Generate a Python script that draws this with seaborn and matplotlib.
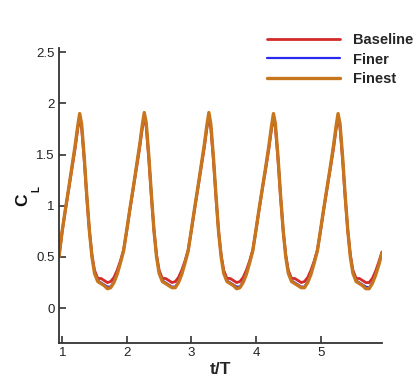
import matplotlib
matplotlib.use("Agg")
import matplotlib.pyplot as plt
import seaborn as sns
import pandas as pd

# Time axis in flapping periods (t/T)
t = [0.95,
     1.00, 1.05, 1.10, 1.15, 1.20, 1.24, 1.27, 1.30, 1.34, 1.38, 1.42, 1.46, 1.50, 1.55, 1.60, 1.65, 1.70, 1.75, 1.80, 1.85, 1.90, 1.95,
     2.00, 2.05, 2.10, 2.15, 2.20, 2.24, 2.27, 2.30, 2.34, 2.38, 2.42, 2.46, 2.50, 2.55, 2.60, 2.65, 2.70, 2.75, 2.80, 2.85, 2.90, 2.95,
     3.00, 3.05, 3.10, 3.15, 3.20, 3.24, 3.27, 3.30, 3.34, 3.38, 3.42, 3.46, 3.50, 3.55, 3.60, 3.65, 3.70, 3.75, 3.80, 3.85, 3.90, 3.95,
     4.00, 4.05, 4.10, 4.15, 4.20, 4.24, 4.27, 4.30, 4.34, 4.38, 4.42, 4.46, 4.50, 4.55, 4.60, 4.65, 4.70, 4.75, 4.80, 4.85, 4.90, 4.95,
     5.00, 5.05, 5.10, 5.15, 5.20, 5.24, 5.27, 5.30, 5.34, 5.38, 5.42, 5.46, 5.50, 5.55, 5.60, 5.65, 5.70, 5.75, 5.80, 5.85, 5.90, 5.95]

# Lift coefficient for each grid resolution
cl_baseline = [0.51,
     0.75, 0.96, 1.16, 1.36, 1.56, 1.75, 1.86, 1.76, 1.45, 1.08, 0.76, 0.52, 0.37, 0.29, 0.29, 0.27, 0.25, 0.26, 0.30, 0.37, 0.46, 0.57,
     0.76, 0.97, 1.17, 1.37, 1.57, 1.76, 1.87, 1.77, 1.46, 1.09, 0.76, 0.52, 0.37, 0.29, 0.29, 0.27, 0.25, 0.26, 0.30, 0.37, 0.46, 0.57,
     0.76, 0.97, 1.17, 1.37, 1.57, 1.76, 1.87, 1.76, 1.45, 1.08, 0.75, 0.52, 0.37, 0.29, 0.29, 0.27, 0.25, 0.26, 0.30, 0.37, 0.46, 0.57,
     0.76, 0.97, 1.17, 1.36, 1.56, 1.75, 1.86, 1.76, 1.45, 1.08, 0.76, 0.52, 0.37, 0.29, 0.29, 0.27, 0.25, 0.26, 0.30, 0.37, 0.46, 0.57,
     0.76, 0.97, 1.17, 1.36, 1.56, 1.75, 1.86, 1.76, 1.45, 1.08, 0.76, 0.52, 0.37, 0.29, 0.29, 0.27, 0.25, 0.25, 0.29, 0.36, 0.45, 0.55]

cl_finer = [0.50,
     0.76, 0.97, 1.17, 1.38, 1.59, 1.77, 1.89, 1.79, 1.47, 1.10, 0.76, 0.51, 0.35, 0.27, 0.25, 0.23, 0.21, 0.21, 0.26, 0.34, 0.45, 0.56,
     0.77, 0.98, 1.18, 1.39, 1.60, 1.78, 1.90, 1.80, 1.48, 1.11, 0.76, 0.51, 0.35, 0.27, 0.25, 0.23, 0.21, 0.21, 0.26, 0.34, 0.45, 0.56,
     0.77, 0.98, 1.18, 1.39, 1.60, 1.78, 1.90, 1.79, 1.47, 1.10, 0.75, 0.51, 0.35, 0.27, 0.25, 0.23, 0.21, 0.21, 0.26, 0.34, 0.45, 0.56,
     0.77, 0.98, 1.18, 1.38, 1.59, 1.77, 1.89, 1.79, 1.47, 1.10, 0.76, 0.51, 0.35, 0.27, 0.25, 0.23, 0.21, 0.21, 0.26, 0.34, 0.45, 0.56,
     0.77, 0.98, 1.18, 1.38, 1.59, 1.77, 1.89, 1.79, 1.47, 1.10, 0.76, 0.51, 0.35, 0.27, 0.25, 0.23, 0.21, 0.20, 0.25, 0.33, 0.43, 0.54]

cl_finest = [0.50,
     0.76, 0.97, 1.17, 1.38, 1.59, 1.78, 1.90, 1.80, 1.48, 1.10, 0.76, 0.50, 0.34, 0.26, 0.24, 0.22, 0.19, 0.20, 0.25, 0.33, 0.44, 0.56,
     0.77, 0.98, 1.18, 1.39, 1.60, 1.79, 1.91, 1.81, 1.49, 1.11, 0.76, 0.50, 0.34, 0.26, 0.24, 0.22, 0.20, 0.20, 0.25, 0.33, 0.44, 0.56,
     0.77, 0.98, 1.18, 1.39, 1.60, 1.79, 1.91, 1.80, 1.48, 1.10, 0.75, 0.50, 0.34, 0.26, 0.24, 0.22, 0.19, 0.20, 0.25, 0.33, 0.44, 0.56,
     0.77, 0.98, 1.18, 1.38, 1.59, 1.78, 1.90, 1.80, 1.48, 1.10, 0.76, 0.50, 0.34, 0.26, 0.24, 0.22, 0.20, 0.20, 0.25, 0.33, 0.44, 0.56,
     0.77, 0.98, 1.18, 1.38, 1.59, 1.78, 1.90, 1.80, 1.48, 1.10, 0.76, 0.50, 0.34, 0.26, 0.24, 0.22, 0.19, 0.19, 0.24, 0.32, 0.42, 0.54]

series_names = ["Baseline", "Finer", "Finest"]
series_colors = ["#d42a2a", "#2a2aee", "#c8761e"]
series_widths = [2.0, 1.6, 2.4]

x_ticks = [1, 2, 3, 4, 5]
y_ticks = [0, 0.5, 1, 1.5, 2, 2.5]
y_tick_labels = ["0", "0.5", "1", "1.5", "2", "2.5"]

sns.set_style("white")
plt.rcParams["font.family"] = ["Liberation Sans", "DejaVu Sans"]

frames = []
for name, vals in zip(series_names, [cl_baseline, cl_finer, cl_finest]):
    frames.append(pd.DataFrame({"t": t, "CL": vals, "grid": name}))
df = pd.concat(frames, ignore_index=True)

W, H = 417, 383
fig = plt.figure(figsize=(W / 100, H / 100), dpi=100)
ax = fig.add_axes([59 / W, 1 - 343 / H, (382 - 59) / W, (343 - 48) / H])

for name, color, lw in zip(series_names, series_colors, series_widths):
    sns.lineplot(data=df[df["grid"] == name], x="t", y="CL", color=color,
                 linewidth=lw, label=name, ax=ax, estimator=None, sort=False)

ax.set_xlim(0.95, 5.95)
ax.set_ylim(-0.34, 2.54)
ax.set_xticks(x_ticks)
ax.set_yticks(y_ticks)
ax.set_yticklabels(y_tick_labels)

for side in ["top", "right"]:
    ax.spines[side].set_visible(False)
for side in ["left", "bottom"]:
    ax.spines[side].set_color("#333333")
    ax.spines[side].set_linewidth(1.3)

ax.tick_params(axis="both", which="major", direction="in", length=5, width=1.2,
               color="#333333", labelsize=9.5, labelcolor="#222222", pad=3,
               bottom=True, left=True, top=False, right=False)

ax.set_xlabel("t/T", fontsize=12.5, fontweight="bold", labelpad=2)
ax.set_ylabel("")

# Rotated "C" with a subscript "L" for the lift coefficient axis title
fig.text(23 / W, 1 - 200 / H, "C", rotation=90, ha="center", va="center",
         fontsize=12.5, fontweight="bold", color="#111111")
fig.text(36 / W, 1 - 189 / H, "L", rotation=90, ha="center", va="center",
         fontsize=7, fontweight="bold", color="#111111")

ax.legend(loc="upper left", bbox_to_anchor=(267 / W, 1 - 33 / H),
          bbox_transform=fig.transFigure, frameon=False, borderaxespad=0,
          borderpad=0, handlelength=5.0, handletextpad=0.9, labelspacing=0.38,
          prop={"weight": "bold", "size": 10.5})

fig.savefig("out.png", dpi=100)
